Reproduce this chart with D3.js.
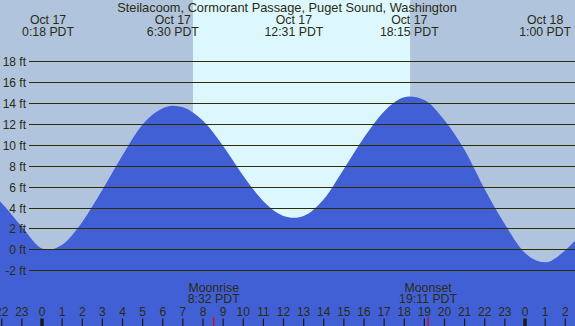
<!DOCTYPE html>
<html>
<head>
<meta charset="utf-8">
<script src="https://cdn.jsdelivr.net/npm/d3@7"></script>
<style>
html,body{margin:0;padding:0;background:#b0c4de;}
svg{display:block;}
text{font-family:"Liberation Sans",Arial,sans-serif;fill:#2b2b10;}
</style>
</head>
<body>
<svg id="chart" width="575" height="326"></svg>
<script>
// ---- data (hours since Oct 17 00:00 PDT, heights in ft) ----
const tideHours = [-2.09, -2, -1, 0, 0.30, 1, 2, 3, 4, 5, 6, 6.50, 7, 8, 9, 10, 11, 12, 12.52, 13, 14, 15, 16, 17, 18, 18.25, 19, 20, 21, 22, 23, 24, 25.00, 26, 26.50];
const tideFeet  = [4.6, 4.42, 2.16, 0.07, -0.05, 0.43, 2.62, 5.7, 9.0, 11.95, 13.5, 13.75, 13.6, 12.3, 9.9, 7.05, 4.6, 3.2, 3.03, 3.2, 4.8, 7.7, 10.7, 13.2, 14.55, 14.62, 14.3, 12.35, 9.5, 5.75, 2.4, -0.35, -1.25, -0.08, 0.85];

const extremeHours = [0.30, 6.50, 12.517, 18.25, 25.0];
const extremeDates = ["Oct 17", "Oct 17", "Oct 17", "Oct 17", "Oct 18"];
const extremeTimes = ["0:18 PDT", "6:30 PDT", "12:31 PDT", "18:15 PDT", "1:00 PDT"];

const yTicks = [-2, 0, 2, 4, 6, 8, 10, 12, 14, 16, 18];
const hourTicks = [-2, -1, 0, 1, 2, 3, 4, 5, 6, 7, 8, 9, 10, 11, 12, 13, 14, 15, 16, 17, 18, 19, 20, 21, 22, 23, 24, 25, 26];
const hourLabels = ["22", "23", "0", "1", "2", "3", "4", "5", "6", "7", "8", "9", "10", "11", "12", "13", "14", "15", "16", "17", "18", "19", "20", "21", "22", "23", "0", "1", "2"];

const moonNames = ["Moonrise", "Moonset"];
const moonTimes = ["8:32 PDT", "19:11 PDT"];
const moonHours = [8.533, 19.183];

const sunriseHour = 7.50;
const sunsetHour = 18.29;

const title = "Steilacoom, Cormorant Passage, Puget Sound, Washington";

// ---- scales ----
const W = 575, H = 326;
const x = d3.scaleLinear().domain([0, 24]).range([42, 525]);
const y = d3.scaleLinear().domain([0, 18]).range([249.3, 61.3]);

const svg = d3.select("#chart");

// night background
svg.append("rect").attr("x", 0).attr("y", 0).attr("width", W).attr("height", H).attr("fill", "#b0c4de");
// daylight band
svg.append("rect")
  .attr("x", x(sunriseHour)).attr("y", 0)
  .attr("width", x(sunsetHour) - x(sunriseHour)).attr("height", H)
  .attr("fill", "#ddf7fe");

// tide area
const pts = tideHours.map((h, i) => [h, tideFeet[i]]);
const area = d3.area()
  .x(d => x(d[0]))
  .y0(H)
  .y1(d => y(d[1]))
  .curve(d3.curveMonotoneX);
svg.append("path").datum(pts).attr("d", area).attr("fill", "#4160d6");

// grid lines + y labels
const grid = svg.append("g");
yTicks.forEach(v => {
  const yy = Math.round(y(v)) + 0.5;
  grid.append("line").attr("x1", 29).attr("x2", W).attr("y1", yy).attr("y2", yy)
    .attr("stroke", "#2d2d00").attr("stroke-width", 1.2);
  grid.append("text").attr("x", 26).attr("y", yy + 4.3)
    .attr("text-anchor", "end").attr("font-size", 12).text(v + " ft");
});

// title
svg.append("text").attr("x", 287).attr("y", 11.5).attr("text-anchor", "middle")
  .attr("font-size", 12.8).text(title);

// extreme labels
extremeHours.forEach((h, i) => {
  svg.append("text").attr("x", x(h)).attr("y", 23.5).attr("text-anchor", "middle")
    .attr("font-size", 12.3).text(extremeDates[i]);
  svg.append("text").attr("x", x(h)).attr("y", 35.7).attr("text-anchor", "middle")
    .attr("font-size", 12.3).text(extremeTimes[i]);
});

// hour ticks
hourTicks.forEach((h, i) => {
  const xx = x(h);
  const midnight = hourLabels[i] === "0";
  svg.append("rect")
    .attr("x", midnight ? xx - 1.7 : xx - 0.6).attr("y", 318.5)
    .attr("width", midnight ? 3.4 : 1.2).attr("height", H - 318.5)
    .attr("fill", "#1a1a1a");
  svg.append("text").attr("x", xx).attr("y", 316).attr("text-anchor", "middle")
    .attr("font-size", 12).text(hourLabels[i]);
});

// moon events
moonHours.forEach((h, i) => {
  const xx = x(h);
  svg.append("rect").attr("x", xx - 0.6).attr("y", 317.5).attr("width", 1.2).attr("height", H - 317.5)
    .attr("fill", "#e00000");
  svg.append("text").attr("x", xx).attr("y", 291.7).attr("text-anchor", "middle")
    .attr("font-size", 12.3).text(moonNames[i]);
  svg.append("text").attr("x", xx).attr("y", 303.3).attr("text-anchor", "middle")
    .attr("font-size", 12.3).text(moonTimes[i]);
});
</script>
</body>
</html>
